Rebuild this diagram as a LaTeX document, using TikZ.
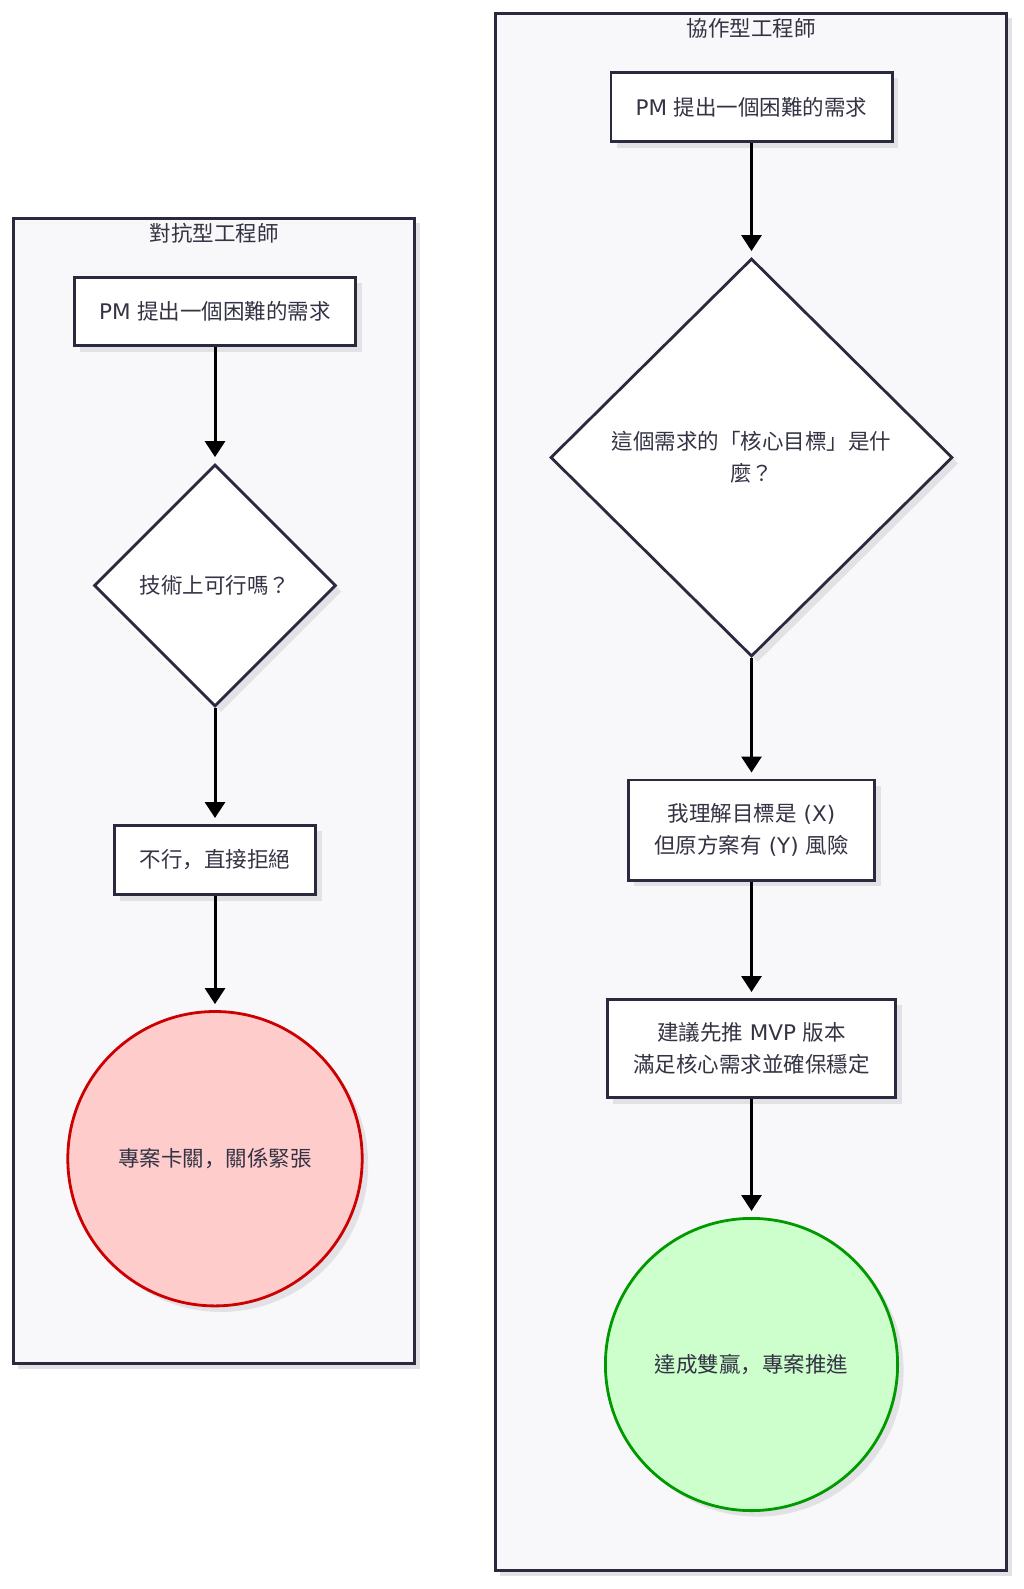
\documentclass[tikz,border=0pt]{standalone}
\usepackage{fontspec}
\setmainfont{Noto Sans CJK TC}
\newfontfamily\latinf{DejaVu Sans}
\newfontfamily\scfont{Noto Sans CJK SC}
\usetikzlibrary{arrows.meta,shapes.geometric,shadows}
\definecolor{clfill}{HTML}{F8F8FA}
\definecolor{edgecol}{HTML}{2A2A3E}
\definecolor{txtcol}{HTML}{333344}
\definecolor{shdcol}{HTML}{E2E2E6}
\definecolor{redline}{HTML}{CC0000}
\definecolor{redfill}{HTML}{FFCCCC}
\definecolor{greenline}{HTML}{009900}
\definecolor{greenfill}{HTML}{CCFFCC}
\begin{document}
\begin{tikzpicture}[x=1pt,y=-1pt,
  lbl/.style={font=\fontsize{21.5}{32}\selectfont, text=txtcol, align=center},
  nodeshadow/.style={general shadow={fill=shdcol, shadow xshift=6pt, shadow yshift=-6pt}},
  cluster/.style={rectangle, draw=edgecol, line width=2.6pt, fill=clfill, inner sep=0pt,
    general shadow={fill=shdcol, shadow xshift=5pt, shadow yshift=-5pt}},
  cltitle/.style={lbl},
  procbox/.style={lbl, rectangle, draw=edgecol, line width=2.8pt, fill=white, inner sep=0pt, nodeshadow},
  decision/.style={lbl, diamond, draw=edgecol, line width=2.8pt, fill=white, inner sep=0pt, aspect=1, nodeshadow},
  endbad/.style={lbl, circle, draw=redline, fill=redfill, line width=2.8pt, inner sep=0pt, nodeshadow},
  endgood/.style={lbl, circle, draw=greenline, fill=greenfill, line width=2.8pt, inner sep=0pt, nodeshadow},
  flow/.style={-{Triangle[width=20pt,length=16pt]}, line width=3pt, black, shorten >=6pt}
]
\useasboundingbox[fill=white] (0,0) rectangle (1024,1589);

% clusters
\node[cluster, minimum width=401.4pt, minimum height=1145.4pt] (cl1) at (214,791) {};
\node[cluster, minimum width=511.4pt, minimum height=1557.4pt] (cl2) at (751,792) {};
\node[cltitle] (t1) at (214,233) {對抗型工程師};
\node[cltitle] (t2) at (751,28) {協作型工程師};

% left column
\node[procbox, minimum width=281.2pt, minimum height=68.2pt] (pm1) at (215,311.5) {{\latinf PM }提出一個困難的需求};
\node[decision, minimum width=242pt, minimum height=242pt] (d1) at (215,585.5) {技術上可行嗎？};
\node[procbox, minimum width=201.2pt, minimum height=69.2pt] (no1) at (215,860) {不行{\scfont ，}直接拒絕};
\node[endbad, minimum size=294.4pt] (e1) at (215,1158.7) {專案卡關{\scfont ，}關係緊張};

% right column
\node[procbox, minimum width=281.2pt, minimum height=69.2pt] (pm2) at (751.5,107) {{\latinf PM }提出一個困難的需求};
\node[decision, minimum width=402pt, minimum height=398pt] (d2) at (751.5,457.5) {這個需求的「核心目標」是什\\麼？};
\node[procbox, minimum width=246.2pt, minimum height=100.2pt] (r1) at (751.5,830) {我理解目標是{\latinf{} (X)}\\但原方案有{\latinf{} (Y) }風險};
\node[procbox, minimum width=288.2pt, minimum height=98.2pt] (r2) at (751.5,1048.5) {建議先推{\latinf{} MVP }版本\\滿足核心需求並確保穩定};
\node[endgood, minimum size=292.2pt] (e2) at (751.5,1364.5) {達成雙贏{\scfont ，}專案推進};

% connectors
\draw[flow] (pm1.south) -- (d1.north);
\draw[flow] (d1.south) -- (no1.north);
\draw[flow] (no1.south) -- (e1.north);
\draw[flow] (pm2.south) -- (d2.north);
\draw[flow] (d2.south) -- (r1.north);
\draw[flow] (r1.south) -- (r2.north);
\draw[flow] (r2.south) -- (e2.north);
\end{tikzpicture}
\end{document}
